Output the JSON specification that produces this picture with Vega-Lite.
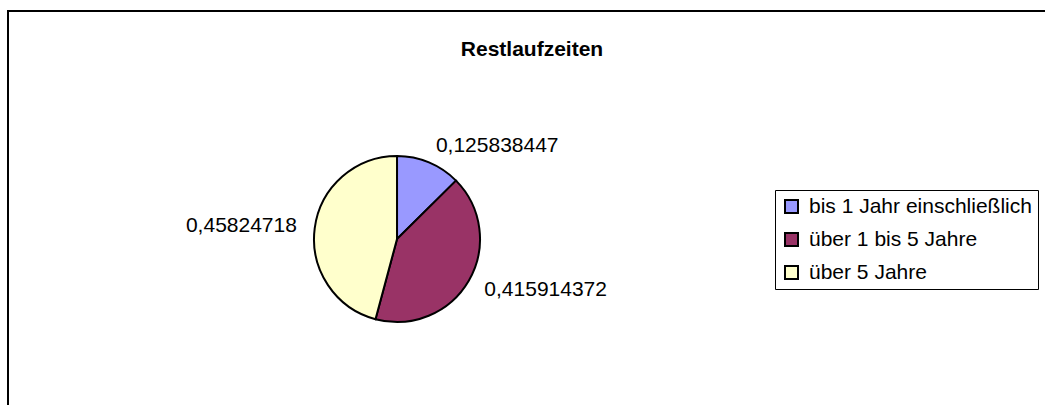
{
  "$schema": "https://vega.github.io/schema/vega-lite/v6.json",
  "width": 1048,
  "height": 456,
  "autosize": {"type": "none"},
  "padding": {"left": 8, "top": 11, "right": 0, "bottom": 0},
  "background": "white",
  "config": {
    "view": {"stroke": "black", "strokeWidth": 2},
    "font": "Liberation Sans",
    "locale": {"number": {"decimal": ",", "thousands": ".", "grouping": [3], "currency": ["", " €"]}}
  },
  "title": {"text": "Restlaufzeiten", "frame": "group", "anchor": "middle", "baseline": "top", "offset": -49, "fontSize": 21, "fontWeight": "bold", "font": "Liberation Sans", "color": "black"},
  "data": {"values": [
    {"Diagramm": "Restlaufzeiten", "Kategorie": "bis 1 Jahr einschließlich", "Anteil": 0.125838447},
    {"Diagramm": "Restlaufzeiten", "Kategorie": "über 1 bis 5 Jahre", "Anteil": 0.415914372},
    {"Diagramm": "Restlaufzeiten", "Kategorie": "über 5 Jahre", "Anteil": 0.45824718}
  ]},
  "encoding": {
    "theta": {"field": "Anteil", "type": "quantitative", "stack": true},
    "x": {"field": "Diagramm", "type": "nominal", "scale": {"type": "point", "align": 0.3712}, "axis": null}
  },
  "layer": [
    {
      "mark": {"type": "arc", "radius": 83, "stroke": "black", "strokeWidth": 2},
      "encoding": {
        "color": {
          "field": "Kategorie", "type": "nominal",
          "scale": {"domain": ["bis 1 Jahr einschließlich", "über 1 bis 5 Jahre", "über 5 Jahre"], "range": ["#9999FF", "#993366", "#FFFFCC"]},
          "legend": {"title": null, "orient": "none", "legendX": 767, "legendY": 179, "direction": "vertical", "labelFontSize": 21, "labelFont": "Liberation Sans", "labelColor": "black", "symbolType": "square", "symbolSize": 169, "symbolStrokeColor": "black", "symbolStrokeWidth": 2, "symbolOpacity": 1, "strokeColor": "black", "padding": 6, "rowPadding": 11, "labelOffset": 7, "fillColor": "white", "labelLimit": 400}
        }
      }
    },
    {
      "mark": {"type": "text", "radius": 101, "fontSize": 21, "color": "black", "baseline": "middle", "align": {"expr": "datum.Kategorie === 'über 5 Jahre' ? 'right' : 'left'"}},
      "encoding": {
        "detail": {"field": "Kategorie", "type": "nominal"},
        "text": {"field": "Anteil", "type": "quantitative", "format": ".9~g"}
      }
    }
  ]
}
